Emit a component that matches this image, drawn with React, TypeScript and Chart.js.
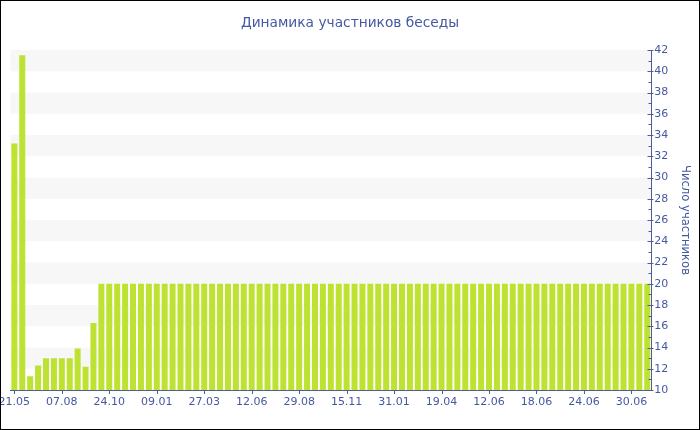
import React, { useEffect, useRef } from 'react';
import { Chart, registerables } from 'chart.js';

Chart.register(...registerables);

const chartTitle = 'Динамика участников беседы';
const axisTitle = 'Число участников';

const tickLabels = [
  '21.05', '07.08', '24.10', '09.01', '27.03', '12.06', '29.08',
  '15.11', '31.01', '19.04', '12.06', '18.06', '24.06', '30.06',
];
const labelEvery = 6;

const participants = [
  33.2, 41.5, 11.3, 12.3, 13, 13, 13, 13, 13.9, 12.2, 16.3,
  20, 20, 20, 20, 20, 20, 20, 20, 20, 20,
  20, 20, 20, 20, 20, 20, 20, 20, 20, 20,
  20, 20, 20, 20, 20, 20, 20, 20, 20, 20,
  20, 20, 20, 20, 20, 20, 20, 20, 20, 20,
  20, 20, 20, 20, 20, 20, 20, 20, 20, 20,
  20, 20, 20, 20, 20, 20, 20, 20, 20, 20,
  20, 20, 20, 20, 20, 20, 20, 20, 20, 20,
];

const yMin = 10;
const yMax = 42;

const FONT = "'DejaVu Sans', Verdana, sans-serif";
const TEXT = '#4459a0';
const AXIS = '#4c5c9c';
const BAR = '#bde232';
const BAND = '#f7f7f7';

const decor = {
  id: 'decor',
  beforeDraw(chart: any) {
    const { ctx, chartArea, scales } = chart;
    const y = scales.y;
    ctx.save();
    ctx.fillStyle = BAND;
    for (let v = yMin + 2; v < yMax; v += 4) {
      const top = y.getPixelForValue(v + 2);
      const bot = y.getPixelForValue(v);
      ctx.fillRect(chartArea.left, top, chartArea.right - chartArea.left, bot - top);
    }
    ctx.restore();
  },
  afterDraw(chart: any) {
    const { ctx, scales } = chart;
    const x = scales.x;
    const y = scales.y;
    ctx.save();
    ctx.strokeStyle = AXIS;
    ctx.lineWidth = 1;
    ctx.beginPath();
    const ax = Math.round(y.left) + 0.5;
    for (let v = yMin; v <= yMax; v += 1) {
      const py = Math.round(y.getPixelForValue(v)) + 0.5;
      if (v % 2 === 0) {
        ctx.moveTo(ax - 4, py);
        ctx.lineTo(ax + 2, py);
      } else {
        ctx.moveTo(ax - 3, py);
        ctx.lineTo(ax, py);
      }
    }
    const by = Math.round(x.top);
    for (let i = 0; i < participants.length; i += labelEvery) {
      const px = Math.round(x.getPixelForValue(i)) + 0.5;
      ctx.moveTo(px, by);
      ctx.lineTo(px, by + 4);
    }
    ctx.stroke();
    ctx.restore();
  },
};

export default function App() {
  const ref = useRef<HTMLCanvasElement>(null);

  useEffect(() => {
    document.body.style.margin = '0';
    const labels = participants.map((_, i) =>
      i % labelEvery === 0 ? tickLabels[i / labelEvery] ?? '' : ''
    );
    const chart = new Chart(ref.current as HTMLCanvasElement, {
      type: 'bar',
      data: {
        labels,
        datasets: [
          {
            data: participants,
            backgroundColor: BAR,
            borderWidth: 0,
            barPercentage: 0.76,
            categoryPercentage: 1,
          },
        ],
      },
      plugins: [decor],
      options: {
        animation: false,
        responsive: false,
        maintainAspectRatio: false,
        layout: { padding: { left: 0, right: 0, top: 0, bottom: 0 } },
        plugins: {
          legend: { display: false },
          tooltip: { enabled: false },
          title: {
            display: true,
            text: chartTitle,
            color: TEXT,
            font: { family: FONT, size: 13.75, weight: 'normal' },
            padding: { top: 14.7, bottom: 18.8 },
          },
        },
        scales: {
          x: {
            type: 'category',
            offset: true,
            grid: { display: false, drawTicks: false },
            border: { display: true, color: AXIS, width: 1 },
            ticks: {
              autoSkip: false,
              maxRotation: 0,
              minRotation: 0,
              padding: 6,
              color: TEXT,
              font: { family: FONT, size: 11 },
            },
            afterFit: (scale: any) => {
              scale.height = 40;
              scale.paddingLeft = 10.4;
              scale.paddingRight = 0;
            },
          },
          y: {
            position: 'right',
            min: yMin,
            max: yMax,
            grid: { display: false, drawTicks: false },
            border: { display: true, color: AXIS, width: 1 },
            ticks: {
              stepSize: 2,
              padding: 3,
              color: TEXT,
              font: { family: FONT, size: 11 },
            },
            title: {
              display: true,
              text: axisTitle,
              color: TEXT,
              font: { family: FONT, size: 11.6 },
              padding: { top: 8, bottom: 0 },
            },
            afterFit: (scale: any) => {
              scale.width = 48.8;
            },
          },
        },
      },
    });
    return () => chart.destroy();
  }, []);

  return (
    <div style={{ position: 'relative', width: 700, height: 430, background: '#fff' }}>
      <canvas ref={ref} width={700} height={430} style={{ display: 'block', width: 700, height: 430 }} />
      <div
        style={{
          position: 'absolute',
          left: 0,
          top: 0,
          width: 700,
          height: 430,
          boxSizing: 'border-box',
          border: '1px solid #000',
          pointerEvents: 'none',
        }}
      />
    </div>
  );
}
